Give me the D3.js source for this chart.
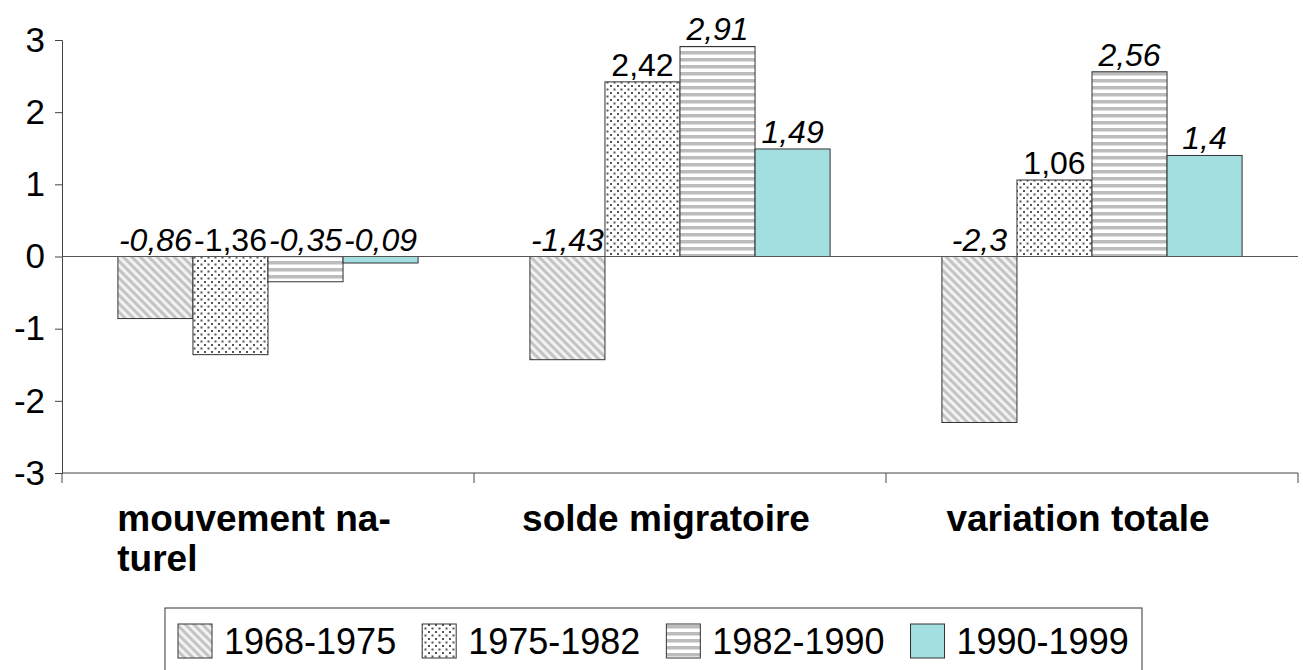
<!DOCTYPE html>
<html>
<head>
<meta charset="utf-8">
<script src="https://cdn.jsdelivr.net/npm/d3@7.9.0/dist/d3.min.js"></script>
<style>
  body { margin: 0; background: #fff; }
  svg { display: block; font-family: Arial, "Liberation Sans", sans-serif; }
</style>
</head>
<body>
<svg id="chart" width="1303" height="670"></svg>
<script>
const categories = [['mouvement na-', 'turel'], ['solde migratoire'], ['variation totale']];
const periods = ['1968-1975', '1975-1982', '1982-1990', '1990-1999'];
const values1968 = [-0.86, -1.43, -2.3];
const values1975 = [-1.36, 2.42, 1.06];
const values1982 = [-0.35, 2.91, 2.56];
const values1990 = [-0.09, 1.49, 1.4];
const yTicks = [-3, -2, -1, 0, 1, 2, 3];

const series = [values1968, values1975, values1982, values1990];
const fills = ['url(#diag)', 'url(#dots)', 'url(#hstripes)', '#a3dfe0'];
const italic = [true, false, true, true];

const svg = d3.select('#chart');
const plotLeft = 62, plotRight = 1298, plotTop = 40, plotBottom = 473;

// patterns
const defs = svg.append('defs');
let p = defs.append('pattern').attr('id', 'diag').attr('patternUnits', 'userSpaceOnUse')
  .attr('width', 6).attr('height', 6).attr('patternTransform', 'rotate(-45)');
p.append('rect').attr('width', 6).attr('height', 6).attr('fill', '#f2f2f2');
p.append('rect').attr('width', 3).attr('height', 6).attr('fill', '#c4c4c4');

p = defs.append('pattern').attr('id', 'dots').attr('patternUnits', 'userSpaceOnUse')
  .attr('width', 7).attr('height', 7);
p.append('rect').attr('width', 7).attr('height', 7).attr('fill', '#fff');
p.append('rect').attr('x', 1).attr('y', 1).attr('width', 2).attr('height', 2).attr('fill', '#555');
p.append('rect').attr('x', 4.5).attr('y', 4.5).attr('width', 2).attr('height', 2).attr('fill', '#555');

p = defs.append('pattern').attr('id', 'hstripes').attr('patternUnits', 'userSpaceOnUse')
  .attr('width', 7).attr('height', 7);
p.append('rect').attr('width', 7).attr('height', 7).attr('fill', '#fff');
p.append('rect').attr('y', 2).attr('width', 7).attr('height', 3.5).attr('fill', '#bcbcbc');

const x0 = d3.scaleBand().domain(d3.range(categories.length)).range([plotLeft, plotRight]).paddingInner(0).paddingOuter(0);
const x1 = d3.scaleBand().domain(d3.range(periods.length)).range([0, x0.bandwidth()]).paddingInner(0).paddingOuter(0.745);
const y = d3.scaleLinear().domain([-3, 3]).range([plotBottom, plotTop]);

const fmt = (v) => String(v).replace('.', ',');

// y axis
const yAxis = svg.append('g').attr('transform', `translate(${plotLeft},0)`)
  .call(d3.axisLeft(y).tickValues(yTicks).tickSize(7).tickPadding(10).tickFormat(d3.format('d')));
yAxis.select('.domain').attr('stroke', '#444');
yAxis.selectAll('.tick line').attr('stroke', '#444');
yAxis.selectAll('.tick text').attr('font-size', 35).attr('fill', '#000').attr('font-family', 'Arial, "Liberation Sans", sans-serif')
  .text((d) => d < 0 ? '-' + Math.abs(d) : d);

// x axis at bottom with boundary ticks
svg.append('line').attr('x1', plotLeft).attr('x2', plotRight).attr('y1', plotBottom).attr('y2', plotBottom).attr('stroke', '#444');
svg.selectAll('.xtick').data(d3.range(categories.length + 1)).join('line')
  .attr('x1', (d) => plotLeft + d * x0.step()).attr('x2', (d) => plotLeft + d * x0.step())
  .attr('y1', plotBottom).attr('y2', plotBottom + 10).attr('stroke', '#444');

// bars
series.forEach((vals, si) => {
  svg.append('g').selectAll('rect').data(vals).join('rect')
    .attr('x', (d, i) => x0(i) + x1(si))
    .attr('y', (d) => y(Math.max(0, d)))
    .attr('width', x1.bandwidth())
    .attr('height', (d) => Math.abs(y(d) - y(0)))
    .attr('fill', fills[si])
    .attr('stroke', '#333').attr('stroke-width', 1);
});

// zero line
svg.append('line').attr('x1', plotLeft).attr('x2', plotRight).attr('y1', y(0)).attr('y2', y(0)).attr('stroke', '#555');

// value labels
series.forEach((vals, si) => {
  svg.append('g').selectAll('text').data(vals).join('text')
    .attr('x', (d, i) => x0(i) + x1(si) + x1.bandwidth() / 2)
    .attr('y', (d) => y(Math.max(0, d)) - 6)
    .attr('text-anchor', 'middle')
    .attr('font-size', 32)
    .attr('font-style', italic[si] ? 'italic' : 'normal')
    .text((d) => fmt(d));
});

// category labels
categories.forEach((lines, i) => {
  const t = svg.append('text').attr('font-size', 37).attr('font-weight', 'bold')
    .attr('text-anchor', 'start');
  lines.forEach((l, j) => {
    t.append('tspan').attr('y', 531 + j * 40).text(l);
  });
  const w = d3.max(t.selectAll('tspan').nodes(), (n) => n.getComputedTextLength());
  const cx = x0(i) + x0.bandwidth() / 2 - 14;
  t.selectAll('tspan').attr('x', cx - w / 2);
});

// legend
const legend = svg.append('g');
legend.append('rect').attr('x', 165).attr('y', 608).attr('width', 977).attr('height', 80)
  .attr('fill', '#fff').attr('stroke', '#333');
let lx = 178;
periods.forEach((per, i) => {
  legend.append('rect').attr('x', lx).attr('y', 624).attr('width', 34).attr('height', 34)
    .attr('fill', fills[i]).attr('stroke', '#333');
  const t = legend.append('text').attr('x', lx + 46).attr('y', 654).attr('font-size', 36).text(per);
  lx += 46 + t.node().getComputedTextLength() + 26;
});
</script>
</body>
</html>
